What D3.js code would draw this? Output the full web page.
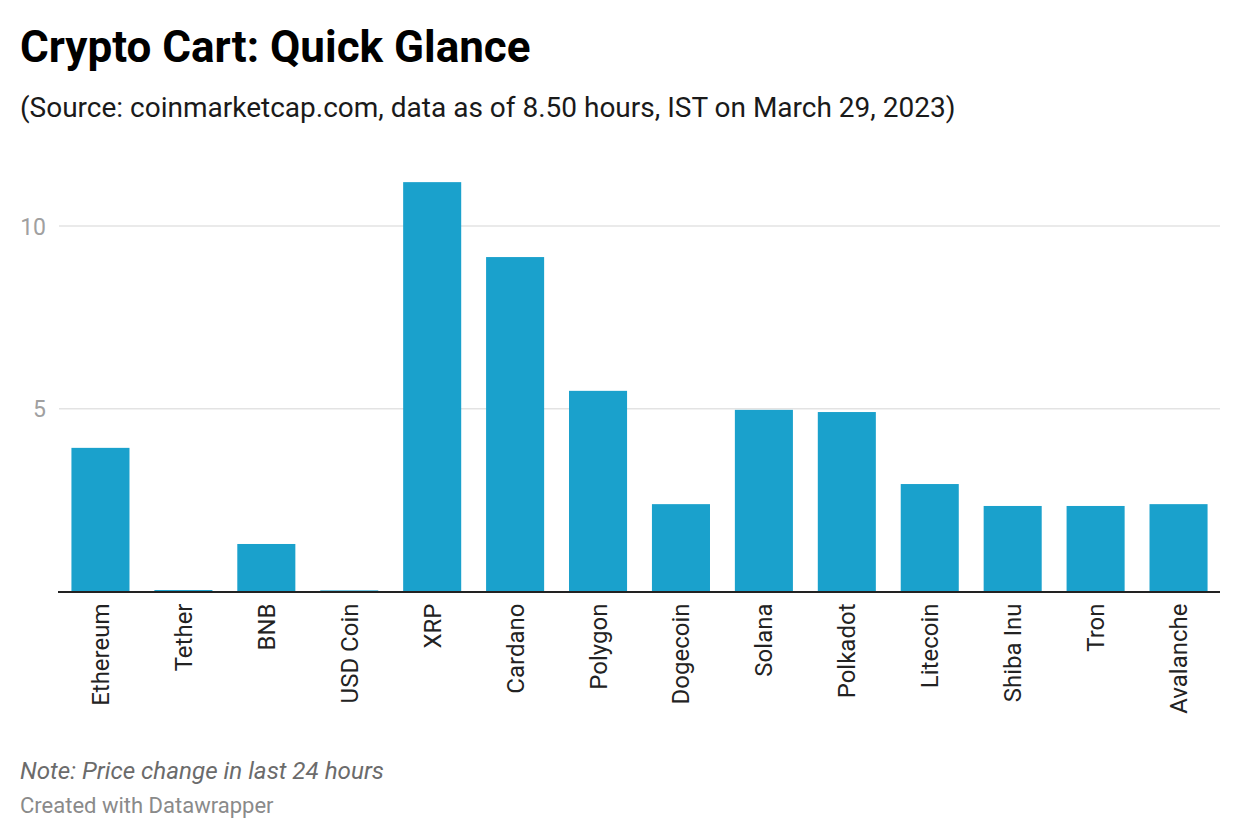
<!DOCTYPE html>
<html><head><meta charset="utf-8">
<script src="https://cdn.jsdelivr.net/npm/d3@7"></script>
<style>
body{margin:0;background:#fff;}
svg text{font-family:Roboto,"Noto Sans",sans-serif;}
</style></head>
<body>
<svg id="chart" width="1240" height="840"></svg>
<script>
const categories = ["Ethereum","Tether","BNB","USD Coin","XRP","Cardano","Polygon","Dogecoin","Solana","Polkadot","Litecoin","Shiba Inu","Tron","Avalanche"];
const values = [3.93,0.04,1.30,0.03,11.20,9.15,5.49,2.39,4.97,4.91,2.94,2.34,2.34,2.39];
const yTicks = [5,10];
const title = "Crypto Cart: Quick Glance";
const subtitle = "(Source: coinmarketcap.com, data as of 8.50 hours, IST on March 29, 2023)";
const note = "Note: Price change in last 24 hours";
const credit = "Created with Datawrapper";

const svg = d3.select("#chart");
const plotLeft = 59, plotRight = 1220, plotBottom = 591.5;
const x = d3.scaleBand().domain(categories).range([plotLeft,plotRight]).paddingInner(0.3).paddingOuter(0.15);
const y = d3.scaleLinear().domain([0,10]).range([plotBottom,226]);

svg.append("text").attr("x",20).attr("y",62).attr("font-size",44).attr("font-weight",700).attr("fill","#000").text(title);
svg.append("text").attr("x",20).attr("y",117).attr("font-size",28).attr("fill","#1a1a1a").text(subtitle);

const g = svg.append("g");
g.selectAll("line.grid").data(yTicks).join("line").attr("class","grid")
  .attr("x1",plotLeft).attr("x2",plotRight).attr("y1",d=>y(d)).attr("y2",d=>y(d))
  .attr("stroke","#e3e3e3").attr("stroke-width",1.5);
g.selectAll("text.ytick").data(yTicks).join("text").attr("class","ytick")
  .attr("x",46).attr("y",d=>y(d)+8.5).attr("text-anchor","end")
  .attr("font-size",23).attr("fill","#a0a0a0").text(d=>d);

g.selectAll("rect").data(values).join("rect")
  .attr("x",(d,i)=>x(categories[i])).attr("width",x.bandwidth())
  .attr("y",d=>y(d)).attr("height",d=>y(0)-y(d)).attr("fill","#1aa1cc");

g.append("line").attr("x1",plotLeft-1).attr("x2",plotRight).attr("y1",plotBottom+0.5).attr("y2",plotBottom+0.5)
  .attr("stroke","#222").attr("stroke-width",2);

g.selectAll("text.xl").data(categories).join("text").attr("class","xl")
  .attr("transform",d=>`translate(${x(d)+x.bandwidth()/2+8.5},${plotBottom+12}) rotate(-90)`)
  .attr("text-anchor","end").attr("font-size",24).attr("fill","#222").text(d=>d);

svg.append("text").attr("x",20).attr("y",779).attr("font-size",24.2).attr("font-style","italic").attr("fill","#6b6b6b").text(note);
svg.append("text").attr("x",20).attr("y",813).attr("font-size",22).attr("fill","#8a8a8a").text(credit);
</script>
</body></html>
